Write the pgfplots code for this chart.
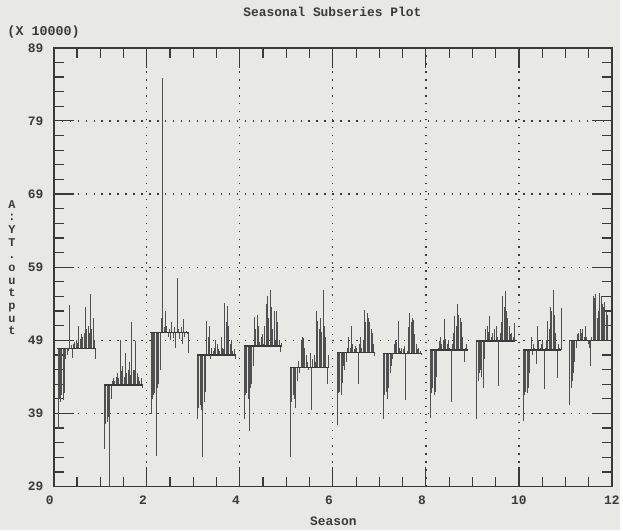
\documentclass[border=0pt]{standalone}
\usepackage{pgfplots}
\pgfplotsset{compat=1.18}
\usepackage{pgfplotstable}
\usepackage{fontspec}
\setmainfont{Liberation Mono}
\definecolor{bg}{RGB}{232,232,229}
\definecolor{ink}{RGB}{58,58,58}
\definecolor{dat}{RGB}{80,80,80}

% one column per month (season), one row per year
\pgfplotstableread{
m1 m2 m3 m4 m5 m6 m7 m8 m9 m10 m11 m12
37.0 34.1 38.9 38.2 38.3 33.1 37.4 38.2 38.4 38.2 38.0 40.2
41.0 37.5 41.0 39.8 41.5 40.5 41.8 41.5 41.8 43.5 41.5 42.5
40.5 37.8 41.5 40.2 41.8 41.5 42.0 42.0 42.5 44.5 42.0 43.5
41.5 38.5 41.8 39.5 41.0 41.0 41.5 41.0 41.5 45.0 41.8 44.5
40.8 29.0 33.2 33.0 36.6 39.8 43.2 42.5 42.0 44.0 42.5 46.0
41.8 41.0 42.5 40.5 42.5 43.5 45.5 44.5 44.0 42.5 44.5 48.0
46.5 43.5 43.0 42.0 43.0 46.2 45.0 45.5 48.0 46.5 49.5 49.8
47.0 43.8 45.0 51.6 45.5 44.5 46.0 46.5 48.9 50.5 47.0 50.0
47.5 43.5 52.0 49.5 52.2 49.0 48.0 48.5 49.5 51.0 48.5 50.5
53.8 44.0 84.9 51.0 50.5 49.5 49.5 49.0 48.5 50.2 48.0 50.0
48.3 44.5 50.8 46.5 52.4 49.3 48.0 48.8 49.0 52.3 45.7 50.5
46.6 43.8 53.0 48.0 51.0 48.0 50.9 51.6 51.9 49.5 51.0 49.5
48.5 49.1 51.0 47.5 48.8 47.0 48.5 48.0 49.2 50.0 49.0 51.0
48.8 44.8 49.5 48.0 49.5 46.0 47.8 47.5 48.5 49.0 48.0 49.5
49.0 45.5 50.5 49.0 49.9 45.0 48.2 48.0 49.0 50.5 48.5 48.5
48.6 44.0 49.0 48.5 48.5 47.2 48.0 47.8 48.0 51.0 49.0 48.0
51.0 47.2 51.5 47.8 51.0 39.5 43.0 48.2 40.5 49.5 42.3 45.5
49.2 44.5 49.3 47.5 54.0 46.5 48.5 40.9 48.5 42.7 48.0 49.5
49.8 45.0 50.8 49.5 55.0 47.0 49.5 47.5 50.0 50.0 49.0 55.0
49.5 46.0 47.9 48.0 52.0 46.0 48.0 50.8 52.3 51.5 51.6 54.8
50.0 44.2 57.5 47.8 55.9 53.0 49.0 52.7 51.0 55.0 50.5 55.3
53.5 51.5 50.5 54.1 53.5 51.6 53.2 51.5 53.9 53.6 53.6 52.0
50.5 45.0 49.2 51.5 50.5 50.5 51.5 52.0 52.5 55.7 53.0 53.0
51.0 45.0 50.8 53.7 53.0 52.0 52.8 51.8 52.0 53.0 55.9 55.5
50.0 48.9 48.5 51.0 49.0 50.2 52.0 49.8 51.5 52.0 52.5 55.0
55.3 44.5 51.9 48.5 53.0 55.9 51.5 48.5 49.5 51.0 50.0 54.0
50.5 44.0 49.5 49.0 51.5 51.0 50.5 47.8 46.1 49.8 43.9 53.5
52.0 43.5 50.3 47.5 49.0 49.5 50.0 48.0 48.0 50.0 48.5 54.3
49.0 43.8 49.8 47.8 47.4 43.0 48.5 47.5 48.5 49.5 48.0 53.0
46.5 42.5 47.3 46.4 48.6 47.0 46.8 47.0 47.5 51.4 53.4 52.5
}\data

% monthly means
\pgfplotstableread{
k mean
1 47.9
2 42.9
3 50.1
4 47.0
5 48.2
6 45.3
7 47.3
8 47.2
9 47.7
10 48.9
11 47.7
12 49.0
}\means

\expandafter\def\csname mean1\endcsname{47.9}
\expandafter\def\csname mean2\endcsname{42.9}
\expandafter\def\csname mean3\endcsname{50.1}
\expandafter\def\csname mean4\endcsname{47.0}
\expandafter\def\csname mean5\endcsname{48.2}
\expandafter\def\csname mean6\endcsname{45.3}
\expandafter\def\csname mean7\endcsname{47.3}
\expandafter\def\csname mean8\endcsname{47.2}
\expandafter\def\csname mean9\endcsname{47.7}
\expandafter\def\csname mean10\endcsname{48.9}
\expandafter\def\csname mean11\endcsname{47.7}
\expandafter\def\csname mean12\endcsname{49.0}

\begin{document}
\begin{tikzpicture}
\fill[bg] (-54bp,-44bp) rectangle (569bp,489bp);
\begin{axis}[
  at={(0,0)}, anchor=south west,
  scale only axis, width=561bp, height=441bp,
  xmin=0, xmax=12, ymin=29, ymax=89,
  xtick={0,2,4,6,8,10,12},
  xticklabels={0\phantom{0},2\phantom{0},4\phantom{0},6\phantom{0},8\phantom{0},10,12},
  minor x tick num=3,
  ytick={29,39,49,59,69,79,89},
  minor y tick num=4,
  major tick length=20bp, minor tick length=10bp,
  tick style={draw=ink, line width=1.2bp},
  axis line style={draw=ink, line width=1.6bp},
  grid=major,
  major grid style={draw=ink, line width=1.3bp, dash pattern=on 1.3bp off 6.7bp},
  ticklabel style={font=\fontsize{13}{13}\selectfont\bfseries, text=ink},
  /pgf/number format/assume math mode=true,
  yticklabel style={xshift=-7bp},
  xticklabel style={yshift=-6bp},
  axis background/.style={fill=bg},
]
\pgfplotsinvokeforeach{1,...,12}{
  \addplot[draw=dat, line width=0.75bp,
    quiver={u=0, v={\thisrow{m#1}-\csname mean#1\endcsname}}]
    table[x expr={#1-1+0.09+\coordindex*0.028}, y expr={\csname mean#1\endcsname}] {\data};
}
\addplot[draw=none, forget plot,
  error bars/.cd, x dir=both, x fixed=0.415, error mark=none,
  error bar style={draw=ink, solid, line width=1.4bp}]
  table[x expr={\thisrow{k}-1+0.495}, y=mean] {\means};
\end{axis}
\node[text=ink, font=\fontsize{13}{13}\selectfont\bfseries] at (280bp,477bp) {Seasonal Subseries Plot};
\node[text=ink, font=\fontsize{13.5}{13.5}\selectfont\bfseries, anchor=west] at (-50bp,457bp) {(X 10000)};
\node[text=ink, font=\fontsize{13}{13}\selectfont\bfseries] at (281bp,-35bp) {Season};
\node[text=ink, align=center, font=\fontsize{12}{12.8}\selectfont\bfseries] at (-42bp,220bp)
  {A\\:\\Y\\T\\.\\o\\u\\t\\p\\u\\t};
\end{tikzpicture}
\end{document}
